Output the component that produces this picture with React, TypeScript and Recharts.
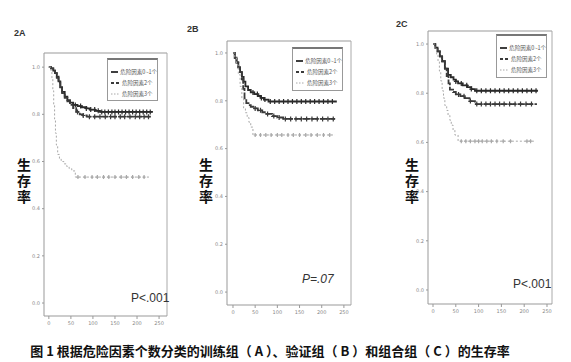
import { ComposedChart, Line, Scatter, XAxis, YAxis, ReferenceLine } from 'recharts';

// survival steps (time, survival)
const aTime01 = [0, 5, 10, 14, 18, 22, 26, 30, 36, 42, 48, 55, 65, 75, 85, 93, 105, 116, 236];
const aSurv01 = [1.0, 0.995, 0.985, 0.975, 0.96, 0.94, 0.915, 0.895, 0.875, 0.86, 0.85, 0.84, 0.835, 0.83, 0.825, 0.82, 0.815, 0.81, 0.81];
const aTime2 = [0, 5, 10, 14, 18, 22, 26, 30, 36, 42, 48, 55, 62, 70, 78, 86, 234];
const aSurv2 = [1.0, 0.995, 0.985, 0.975, 0.955, 0.935, 0.91, 0.89, 0.87, 0.855, 0.84, 0.826, 0.81, 0.8, 0.795, 0.79, 0.79];
const aTime3 = [0, 5, 7, 9, 11, 13, 15, 17, 20, 24, 28, 34, 40, 46, 52, 60, 230];
const aSurv3 = [1.0, 0.98, 0.95, 0.9, 0.84, 0.78, 0.72, 0.67, 0.63, 0.61, 0.6, 0.59, 0.58, 0.57, 0.56, 0.534, 0.534];

const bTime01 = [0, 4, 8, 12, 16, 20, 24, 28, 34, 40, 48, 56, 63, 70, 80, 234];
const bSurv01 = [1.0, 0.98, 0.96, 0.94, 0.92, 0.9, 0.88, 0.86, 0.845, 0.835, 0.828, 0.82, 0.812, 0.805, 0.797, 0.797];
const bTime2 = [0, 4, 8, 12, 16, 20, 23, 26, 30, 35, 40, 48, 56, 66, 75, 88, 100, 113, 230];
const bSurv2 = [1.0, 0.98, 0.96, 0.94, 0.92, 0.89, 0.85, 0.81, 0.79, 0.782, 0.775, 0.768, 0.76, 0.752, 0.745, 0.736, 0.73, 0.724, 0.724];
const bTime3 = [0, 4, 8, 12, 16, 20, 24, 28, 32, 36, 40, 45, 230];
const bSurv3 = [1.0, 0.98, 0.95, 0.91, 0.86, 0.81, 0.77, 0.75, 0.73, 0.71, 0.69, 0.657, 0.657];

const cTime01 = [0, 5, 10, 15, 20, 26, 33, 39, 45, 50, 55, 65, 75, 84, 92, 230];
const cSurv01 = [1.0, 0.985, 0.97, 0.95, 0.93, 0.9, 0.875, 0.865, 0.855, 0.848, 0.84, 0.832, 0.825, 0.817, 0.81, 0.81];
const cTime2 = [0, 5, 10, 15, 20, 26, 30, 34, 37, 44, 50, 60, 70, 80, 92, 228];
const cSurv2 = [1.0, 0.985, 0.97, 0.95, 0.93, 0.9, 0.87, 0.84, 0.815, 0.805, 0.795, 0.788, 0.78, 0.768, 0.756, 0.756];
const cTime3 = [0, 4, 8, 11, 14, 17, 20, 23, 26, 30, 33, 37, 40, 44, 48, 55, 224];
const cSurv3 = [1.0, 0.98, 0.955, 0.93, 0.89, 0.85, 0.81, 0.78, 0.75, 0.73, 0.71, 0.69, 0.67, 0.65, 0.63, 0.605, 0.605];

// censoring marks
const aCens01 = [60, 72, 85, 95, 104, 112, 120, 127, 135, 143, 150, 158, 166, 174, 182, 190, 198, 206, 214, 222, 230];
const aCens2 = [65, 78, 92, 104, 116, 128, 140, 150, 162, 172, 184, 196, 206, 216, 226];
const aCens3 = [66, 82, 98, 110, 124, 136, 150, 164, 176, 190, 204, 216];
const bCens01 = [45, 55, 64, 72, 84, 94, 104, 114, 124, 134, 144, 154, 164, 174, 184, 194, 204, 214, 224];
const bCens2 = [50, 62, 78, 92, 104, 118, 130, 142, 154, 166, 178, 190, 202, 214, 226];
const bCens3 = [50, 62, 74, 86, 100, 110, 124, 136, 150, 164, 176, 190, 204, 218];
const cCens01 = [50, 62, 74, 84, 96, 106, 116, 126, 136, 146, 156, 166, 176, 186, 196, 206, 216, 226];
const cCens2 = [56, 68, 82, 96, 106, 116, 126, 136, 146, 156, 168, 180, 192, 204, 216];
const cCens3 = [62, 72, 82, 92, 100, 108, 118, 128, 140, 154, 170, 206, 214];

const seriesNames = ['危险因素0~1个', '危险因素2个', '危险因素3个'];
const yTicks = [0, 0.2, 0.4, 0.6, 0.8, 1.0];
const xTicks = [0, 50, 100, 150, 200, 250];
const panelTitles = ['2A', '2B', '2C'];
const pValues = ['P<.001', 'P=.07', 'P<.001'];
const caption = '图 1 根据危险因素个数分类的训练组（ A ）、验证组（ B ）和组合组（ C ）的生存率';

const styles = [
  { stroke: '#2a2a2a', width: 1.8, dash: undefined },
  { stroke: '#3a3a3a', width: 1.8, dash: '7 1.5' },
  { stroke: '#a8a8a8', width: 1, dash: '2 2' },
];

function toPoints(times: number[], surv: number[]) {
  return times.map((t, i) => ({ t, v: surv[i] }));
}

function levelAt(times: number[], surv: number[], t: number) {
  let v = surv[0];
  times.forEach((tt, i) => {
    if (tt <= t) v = surv[i];
  });
  return v;
}

function cross(color: string, size: number) {
  return (props: any) => {
    const { cx, cy } = props;
    return (
      <path
        d={`M${cx - size},${cy}h${size * 2}M${cx},${cy - size - 0.5}v${size * 2 + 1}`}
        stroke={color}
        strokeWidth={1.2}
        fill="none"
      />
    );
  };
}

const panels = [
  {
    box: { x0: 44, x1: 167, y0: 53, y1: 316 },
    xDomain: [-11, 268],
    yDomain: [-0.055, 1.06],
    curves: [[aTime01, aSurv01, aCens01], [aTime2, aSurv2, aCens2], [aTime3, aSurv3, aCens3]],
    legend: { x: 107, y: 58, w: 51, h: 43 },
    ylab: { x: 24 },
    title: { x: 14, y: 37 },
    p: { x: 131, y: 301 },
  },
  {
    box: { x0: 227, x1: 351, y0: 41, y1: 305 },
    xDomain: [-13.5, 266],
    yDomain: [-0.054, 1.05],
    curves: [[bTime01, bSurv01, bCens01], [bTime2, bSurv2, bCens2], [bTime3, bSurv3, bCens3]],
    legend: { x: 292, y: 47, w: 51, h: 44 },
    ylab: { x: 206 },
    title: { x: 187, y: 33 },
    p: { x: 302, y: 282 },
  },
  {
    box: { x0: 428, x1: 552, y0: 31, y1: 304 },
    xDomain: [-11, 261],
    yDomain: [-0.057, 1.053],
    curves: [[cTime01, cSurv01, cCens01], [cTime2, cSurv2, cCens2], [cTime3, cSurv3, cCens3]],
    legend: { x: 496, y: 34, w: 51, h: 44 },
    ylab: { x: 412 },
    title: { x: 396, y: 28 },
    p: { x: 513, y: 287 },
  },
];

const tickStyle = { fontSize: 5, fill: '#888', fontFamily: 'DejaVu Sans' };

function Panel({ p, idx }: { p: any; idx: number }) {
  const { box } = p;
  const left = box.x0 - 16;
  const top = box.y0 - 4;
  const width = box.x1 - box.x0 + 20;
  const height = box.y1 - box.y0 + 22;
  return (
    <>
      <div style={{ position: 'absolute', left, top }}>
        <ComposedChart width={width} height={height} margin={{ top: 4, right: 4, left: 0, bottom: 0 }}>
          <XAxis
            type="number"
            dataKey="t"
            domain={p.xDomain}
            ticks={xTicks}
            allowDataOverflow
            height={18}
            tick={tickStyle}
            tickSize={3}
            stroke="#999"
            tickFormatter={(v: number) => String(v)}
          />
          <YAxis
            type="number"
            dataKey="v"
            domain={p.yDomain}
            ticks={yTicks}
            allowDataOverflow
            width={16}
            tick={tickStyle}
            tickSize={2}
            stroke="#999"
            tickFormatter={(v: number) => v.toFixed(1)}
          />
          <ReferenceLine y={p.yDomain[1]} stroke="#999" />
          <ReferenceLine x={p.xDomain[1]} stroke="#aaa" />
          {p.curves.map((c: any, i: number) => (
            <Line
              key={'l' + i}
              data={toPoints(c[0], c[1])}
              dataKey="v"
              type="stepAfter"
              stroke={styles[i].stroke}
              strokeWidth={styles[i].width}
              strokeDasharray={styles[i].dash}
              dot={false}
              isAnimationActive={false}
            />
          ))}
          {p.curves.map((c: any, i: number) => (
            <Scatter
              key={'s' + i}
              data={c[2].map((t: number) => ({ t, v: levelAt(c[0], c[1], t) }))}
              dataKey="v"
              shape={cross(styles[i].stroke, i === 2 ? 1.5 : 2)}
              isAnimationActive={false}
            />
          ))}
        </ComposedChart>
      </div>
      {/* legend box */}
      <div
        style={{
          position: 'absolute',
          left: p.legend.x,
          top: p.legend.y,
          width: p.legend.w,
          height: p.legend.h,
          border: '1px solid #999',
          borderTop: '2px solid #777',
          boxSizing: 'border-box',
          background: '#fff',
          padding: '6px 0 0 3px',
        }}
      >
        {seriesNames.map((name, i) => (
          <div key={name} style={{ display: 'flex', alignItems: 'center', height: 11 }}>
            <svg width={9} height={4} style={{ marginRight: 2 }}>
              <line x1={0} y1={2} x2={9} y2={2} stroke={styles[i].stroke} strokeWidth={styles[i].width} strokeDasharray={i === 0 ? undefined : i === 1 ? '3 2' : '1.5 1.5'} />
            </svg>
            <span style={{ fontSize: 5.5, color: '#555', fontFamily: 'Noto Sans CJK SC', whiteSpace: 'nowrap' }}>{name}</span>
          </div>
        ))}
      </div>
      <div
        style={{
          position: 'absolute',
          left: p.ylab.x - 8,
          top: 158,
          writingMode: 'vertical-rl',
          fontSize: 14,
          fontWeight: 700,
          letterSpacing: 2,
          fontFamily: 'Noto Sans CJK SC',
          color: '#111',
          lineHeight: '16px',
        }}
      >
        生存率
      </div>
      <div
        style={{
          position: 'absolute',
          left: p.title.x,
          top: p.title.y - 9,
          fontSize: 9,
          fontWeight: 700,
          fontFamily: 'Liberation Sans Narrow, Liberation Sans',
          color: '#333',
        }}
      >
        {panelTitles[idx]}
      </div>
      <div
        style={{
          position: 'absolute',
          left: p.p.x,
          top: p.p.y - 10,
          fontSize: 12,
          fontFamily: 'Liberation Sans Narrow, Liberation Sans',
          fontStyle: idx === 1 ? 'italic' : 'normal',
          color: '#333',
        }}
      >
        {pValues[idx]}
      </div>
    </>
  );
}

export default function App() {
  return (
    <div style={{ position: 'absolute', left: 0, top: 0, width: 571, height: 362, background: '#fff', overflow: 'hidden' }}>
      {panels.map((p, i) => (
        <Panel key={i} p={p} idx={i} />
      ))}
      <div
        style={{
          position: 'absolute',
          left: 0,
          top: 341,
          width: 540,
          textAlign: 'center',
          fontSize: 13,
          fontWeight: 700,
          fontFamily: 'Noto Sans CJK SC',
          color: '#111',
          whiteSpace: 'nowrap',
        }}
      >
        {caption}
      </div>
    </div>
  );
}
